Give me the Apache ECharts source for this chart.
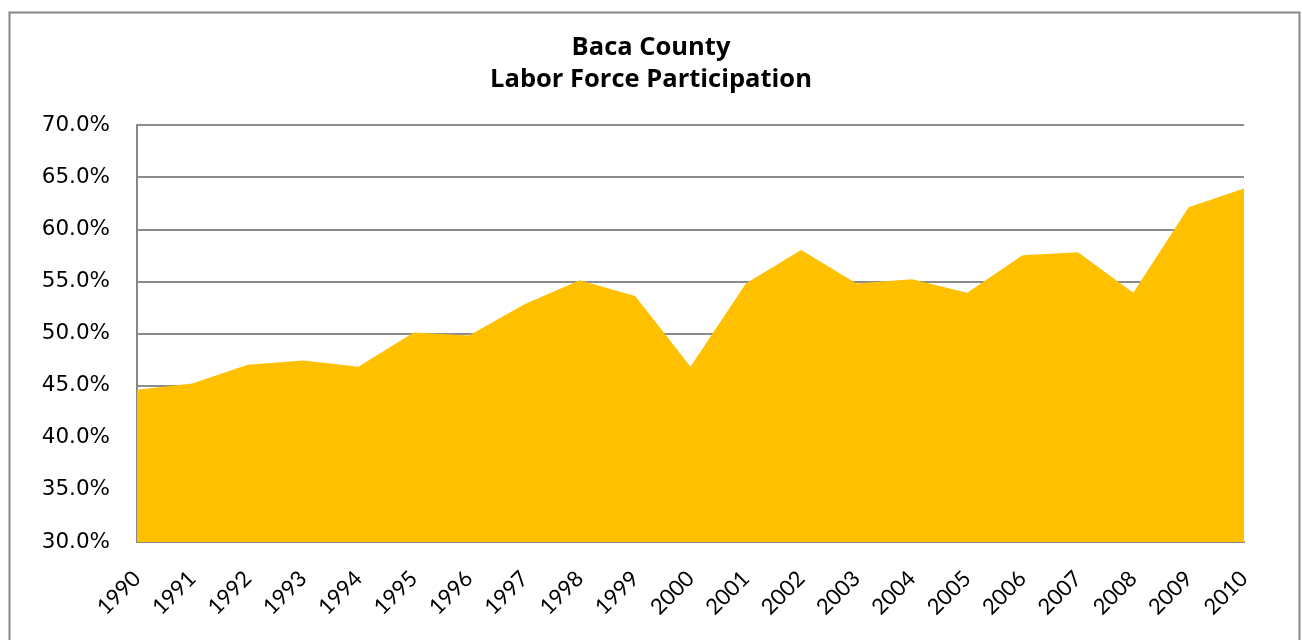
<!DOCTYPE html>
<html>
<head>
<meta charset="utf-8">
<script src="https://cdn.jsdelivr.net/npm/echarts@6/dist/echarts.min.js"></script>
<style>
html,body{margin:0;padding:0;background:#fff;}
#chart{width:1302px;height:640px;}
</style>
</head>
<body>
<div id="chart"></div>
<script>
var years = ['1990','1991','1992','1993','1994','1995','1996','1997','1998','1999','2000','2001','2002','2003','2004','2005','2006','2007','2008','2009','2010'];
var participation = [44.6, 45.2, 47.0, 47.4, 46.8, 50.1, 49.8, 52.8, 55.1, 53.6, 46.8, 54.8, 58.0, 54.8, 55.2, 53.9, 57.5, 57.8, 53.9, 62.1, 63.9];
var titleLines = ['Baca County', 'Labor Force Participation'];

var chart = echarts.init(document.getElementById('chart'));
chart.setOption({
  animation: false,
  backgroundColor: '#ffffff',
  graphic: [{
    type: 'rect',
    shape: {x: 9.5, y: 12.5, width: 1290, height: 700},
    style: {fill: 'none', stroke: '#868686', lineWidth: 2},
    silent: true,
    z: -1
  }],
  title: {
    text: titleLines.join('\n'),
    left: 'center',
    top: 27,
    textStyle: {fontFamily: 'Open Sans', fontWeight: 'bold', fontSize: 25.5, lineHeight: 32, color: '#000'}
  },
  grid: {left: 137, right: 58, top: 125, bottom: 98, containLabel: false},
  xAxis: {
    type: 'category',
    data: years,
    boundaryGap: false,
    axisLine: {lineStyle: {color: '#868686', width: 2}},
    axisTick: {show: false},
    axisLabel: {rotate: 45, margin: 33, fontFamily: 'Lato', fontSize: 22, color: '#000', interval: 0}
  },
  yAxis: {
    type: 'value',
    min: 30, max: 70, interval: 5,
    axisLine: {show: true, lineStyle: {color: '#868686', width: 2}},
    axisTick: {show: false},
    splitLine: {lineStyle: {color: '#8c8c8c', width: 2}},
    axisLabel: {margin: 27, fontFamily: 'DejaVu Sans', fontSize: 21.5, color: '#000',
      formatter: function (v) { return v.toFixed(1) + '%'; }}
  },
  series: [{
    type: 'line',
    data: participation,
    symbol: 'none',
    lineStyle: {width: 0},
    areaStyle: {color: '#FFC000', opacity: 1}
  }]
});
</script>
</body>
</html>
